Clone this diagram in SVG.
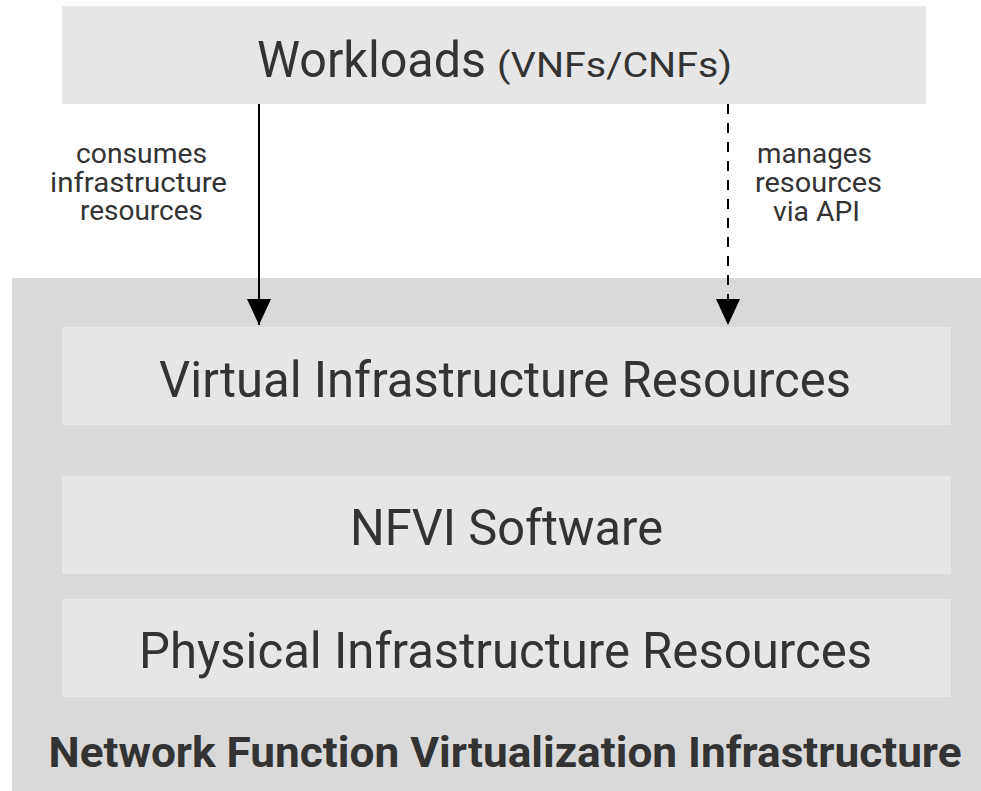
<svg xmlns="http://www.w3.org/2000/svg" width="981" height="791" viewBox="0 0 981 791">
<style>
.box{fill:#e6e6e6}
.outer{fill:#d9d9d9}
.t{font-family:Roboto,"Liberation Sans",sans-serif;fill:#333333}
.big{font-size:50px}
.lbl{font-size:28px}
.conn{stroke:#000;stroke-width:2;fill:none}
</style>
<defs>
<marker id="ah" markerWidth="26" markerHeight="24" refX="26" refY="12" orient="auto" markerUnits="userSpaceOnUse" viewBox="0 0 26 24">
<path d="M0,0 L26,12 L0,24 Z" fill="#000"/>
</marker>
</defs>
<rect width="981" height="791" fill="#ffffff"/>
<g id="nfvi">
<rect class="outer" x="12" y="278" width="969" height="513"/>
<text class="t" x="505" y="767" font-size="43" font-weight="bold" text-anchor="middle" textLength="913" lengthAdjust="spacingAndGlyphs">Network Function Virtualization Infrastructure</text>
</g>
<g id="workloads">
<rect class="box" x="62" y="6" width="864" height="98"/>
<text class="t" x="257" y="77" font-size="50" textLength="229" lengthAdjust="spacingAndGlyphs">Workloads</text>
<text class="t" x="497" y="77" font-size="35" textLength="235" lengthAdjust="spacingAndGlyphs">(VNFs/CNFs)</text>
</g>
<g id="virtual">
<rect class="box" x="62" y="327" width="889" height="98"/>
<text class="t big" x="159" y="397" textLength="692" lengthAdjust="spacingAndGlyphs">Virtual Infrastructure Resources</text>
</g>
<g id="software">
<rect class="box" x="62" y="476" width="889" height="98"/>
<text class="t big" x="350" y="545" textLength="313" lengthAdjust="spacingAndGlyphs">NFVI Software</text>
</g>
<g id="physical">
<rect class="box" x="62" y="599" width="889" height="98"/>
<text class="t big" x="139" y="668" textLength="733" lengthAdjust="spacingAndGlyphs">Physical Infrastructure Resources</text>
</g>
<g id="connectors">
<line class="conn" x1="259" y1="104" x2="259" y2="325" marker-end="url(#ah)"/>
<line class="conn" x1="728" y1="104" x2="728" y2="325" stroke-dasharray="10,9" marker-end="url(#ah)"/>
<text class="t lbl" x="76" y="163" textLength="131" lengthAdjust="spacingAndGlyphs">consumes</text>
<text class="t lbl" x="50" y="192" textLength="177" lengthAdjust="spacingAndGlyphs">infrastructure</text>
<text class="t lbl" x="80" y="220" textLength="123" lengthAdjust="spacingAndGlyphs">resources</text>
<text class="t lbl" x="757" y="163" textLength="115" lengthAdjust="spacingAndGlyphs">manages</text>
<text class="t lbl" x="755" y="192" textLength="127" lengthAdjust="spacingAndGlyphs">resources</text>
<text class="t lbl" x="773" y="221" textLength="87" lengthAdjust="spacingAndGlyphs">via API</text>
</g>
</svg>
